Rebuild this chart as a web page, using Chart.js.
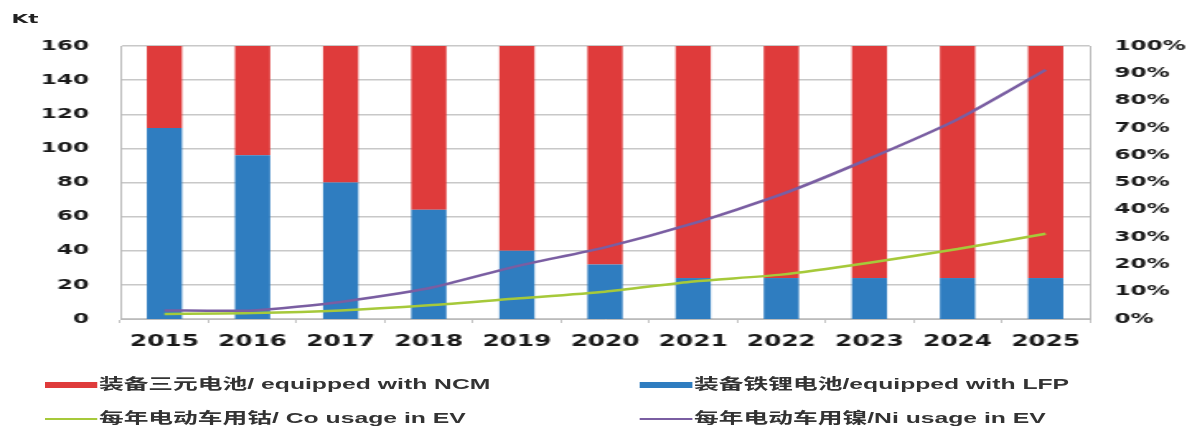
<!DOCTYPE html>
<html>
<head>
<meta charset="utf-8">
<script src="https://cdn.jsdelivr.net/npm/chart.js@4"></script>
<style>
  body { margin: 0; background: #fff; overflow: hidden; }
  /* the source picture is stretched horizontally, so draw narrow and stretch */
  #wrap { position: relative; width: 720px; height: 427px; transform: scaleX(1.6486); transform-origin: 0 0; }
  #kt { position: absolute; left: 7px; top: 11px; font: bold 13px "DejaVu Sans", sans-serif; color: #222; }
  .lg { position: absolute; font-size: 15px; font-weight: bold; color: #333; white-space: nowrap; font-family: "Liberation Sans", "Noto Sans CJK SC", sans-serif; }
  .lg span { display: inline-block; vertical-align: middle; margin-right: 1px; }
</style>
</head>
<body>
<div id="wrap">
  <canvas id="chart" width="720" height="427"></canvas>
  <div id="kt">Kt</div>
  <div class="lg" style="left:27px; top:372px;"><span style="width:32px;height:6px;background:#df3b3b;"></span>装备三元电池/ equipped with NCM</div>
  <div class="lg" style="left:388px; top:372px;"><span style="width:32px;height:6px;background:#2f7dc0;"></span>装备铁锂电池/equipped with LFP</div>
  <div class="lg" style="left:27px; top:406px;"><span style="width:32px;height:2px;background:#a6c93a;"></span>每年电动车用钴/ Co usage in EV</div>
  <div class="lg" style="left:388px; top:406px;"><span style="width:32px;height:2px;background:#7a5ea2;"></span>每年电动车用镍/Ni usage in EV</div>
</div>
<script>
// categories
const years = ['2015', '2016', '2017', '2018', '2019', '2020', '2021', '2022', '2023', '2024', '2025'];
// share of batteries (%), right axis
const lfpShare = [70, 60, 50, 40, 25, 20, 15, 15, 15, 15, 15];
const ncmShare = [30, 40, 50, 60, 75, 80, 85, 85, 85, 85, 85];
// metal usage (Kt), left axis
const niUsage = [5, 5, 10, 18, 31, 42, 56, 73, 94, 117, 146];
const coUsage = [3, 3.5, 5, 8, 12, 16, 22, 26, 33, 41, 50];

const tickFont = { family: 'DejaVu Sans', size: 14, weight: 'bold' };

new Chart(document.getElementById('chart').getContext('2d'), {
    data: {
        labels: years,
        datasets: [{
            type: 'line',
            label: 'Ni',
            data: niUsage,
            yAxisID: 'y',
            borderColor: '#7a5ea2',
            borderWidth: 2.5,
            pointRadius: 0,
            tension: 0.2,
            order: 0
        }, {
            type: 'line',
            label: 'Co',
            data: coUsage,
            yAxisID: 'y',
            borderColor: '#a6c93a',
            borderWidth: 2.5,
            pointRadius: 0,
            tension: 0.2,
            order: 0
        }, {
            type: 'bar',
            label: 'LFP',
            data: lfpShare,
            yAxisID: 'y1',
            backgroundColor: '#2f7dc0',
            stack: 's',
            barPercentage: 0.8,
            categoryPercentage: 0.5,
            order: 1
        }, {
            type: 'bar',
            label: 'NCM',
            data: ncmShare,
            yAxisID: 'y1',
            backgroundColor: '#df3b3b',
            stack: 's',
            barPercentage: 0.8,
            categoryPercentage: 0.5,
            order: 1
        }]
    },
    options: {
        responsive: false,
        animation: false,
        layout: { padding: { left: 24, right: 1, top: 46, bottom: 66 } },
        plugins: { legend: { display: false }, tooltip: { enabled: false } },
        scales: {
            x: {
                stacked: true,
                grid: { display: true, drawOnChartArea: false, tickLength: 4, color: '#c4c4c4' },
                border: { color: '#bbb' },
                ticks: { color: '#1a1a1a', font: { family: 'DejaVu Sans', size: 15, weight: 'bold' }, padding: 10 }
            },
            y: {
                position: 'left',
                min: 0,
                max: 160,
                ticks: { stepSize: 20, color: '#1a1a1a', font: tickFont, padding: 19 },
                grid: { color: '#c8c8c8', lineWidth: 1.5, drawTicks: false },
                border: { color: '#bbb' },
                afterFit: axis => { axis.width = 49; }
            },
            y1: {
                position: 'right',
                stacked: true,
                min: 0,
                max: 100,
                ticks: { stepSize: 10, color: '#1a1a1a', font: tickFont, padding: 15, callback: v => v + '%' },
                grid: { display: false, drawTicks: false },
                border: { color: '#bbb' },
                afterFit: axis => { axis.width = 58; }
            }
        }
    }
});
</script>
</body>
</html>
